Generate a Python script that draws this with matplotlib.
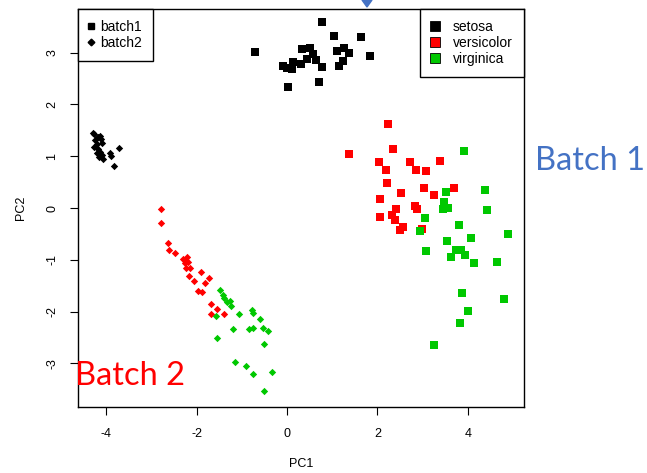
#!/usr/bin/env python3
"""PCA of iris across two batches: PC1 vs PC2, marker = batch, colour = species."""
import matplotlib
matplotlib.use("Agg")
import matplotlib.pyplot as plt
from matplotlib.lines import Line2D
from matplotlib.patches import Polygon

# ---- data (PC1, PC2) ----
b1_setosa_x = [0.77, 1.05, 1.63, -0.71, 0.34, 0.51, 0.58, 0.44, 0.64, 0.14, 0.32, -0.08,
               0.10, -0.01, 0.78, 0.02, 0.71, 1.10, 1.26, 1.37, 1.23, 1.16, 1.84]
b1_setosa_y = [3.59, 3.31, 3.30, 3.01, 3.06, 3.08, 2.97, 2.88, 2.86, 2.82, 2.77, 2.74,
               2.68, 2.70, 2.72, 2.34, 2.44, 3.02, 3.08, 2.99, 2.84, 2.74, 2.94]

b2_setosa_x = [-4.29, -4.17, -4.12, -4.25, -4.10, -4.21, -4.27, -4.17, -4.14, -4.21,
               -4.10, -4.15, -4.06, -3.92, -3.90, -3.72, -3.82, -4.26, -4.14]
b2_setosa_y = [1.45, 1.37, 1.34, 1.31, 1.26, 1.24, 1.18, 1.14, 1.08, 1.07,
               1.02, 0.98, 0.95, 1.07, 1.00, 1.16, 0.81, 1.43, 1.38]

b1_versi_x = [2.23, 1.37, 2.35, 2.04, 2.18, 2.72, 2.85, 3.08, 3.39, 2.21, 3.03, 3.24,
              3.69, 2.52, 2.06, 2.40, 2.83, 2.88, 2.06, 2.32, 2.39, 2.57, 2.50, 2.98]
b1_versi_y = [1.63, 1.05, 1.14, 0.88, 0.74, 0.88, 0.73, 0.72, 0.90, 0.48, 0.39, 0.26,
              0.38, 0.28, 0.17, -0.02, 0.04, -0.01, -0.17, -0.14, -0.23, -0.36, -0.42, -0.41]

b2_versi_x = [-2.79, -2.79, -2.63, -2.60, -2.48, -2.29, -2.22, -2.26, -2.18, -2.23, -2.15,
              -2.16, -1.91, -2.06, -1.72, -1.81, -1.96, -1.87, -1.67, -1.54, -1.69, -1.39, -2.26]
b2_versi_y = [-0.01, -0.28, -0.67, -0.81, -0.86, -0.99, -0.94, -1.07, -1.04, -1.16, -1.15,
              -1.31, -1.23, -1.41, -1.36, -1.44, -1.60, -1.62, -1.86, -1.95, -2.05, -2.05, -1.00]

b1_virg_x = [3.91, 3.51, 4.37, 3.47, 3.44, 3.55, 4.42, 3.05, 2.95, 3.81, 4.88, 4.06, 3.53,
             3.08, 3.73, 3.84, 3.63, 3.93, 4.13, 4.64, 3.86, 4.79, 4.01, 3.83, 3.25]
b1_virg_y = [1.10, 0.30, 0.35, 0.11, -0.01, 0.00, -0.04, -0.20, -0.45, -0.33, -0.51, -0.57,
             -0.63, -0.83, -0.81, -0.82, -0.94, -0.91, -1.06, -1.04, -1.64, -1.76, -1.99,
             -2.22, -2.64]

b2_virg_x = [-1.47, -1.42, -1.39, -1.33, -1.26, -1.24, -1.57, -1.06, -0.78, -0.75, -0.60,
             -1.19, -0.84, -0.75, -0.54, -0.43, -1.54, -0.51, -1.15, -0.91, -0.76, -0.33, -0.51]
b2_virg_y = [-1.58, -1.67, -1.74, -1.81, -1.79, -1.89, -2.08, -2.05, -1.96, -2.02, -2.15,
             -2.34, -2.34, -2.32, -2.31, -2.37, -2.50, -2.63, -2.98, -3.05, -3.21, -3.16, -3.53]

x_ticks = [-4, -2, 0, 2, 4]
y_ticks = [-3, -2, -1, 0, 1, 2, 3]
species = ["setosa", "versicolor", "virginica"]
batches = ["batch1", "batch2"]

COLORS = {"setosa": "black", "versicolor": "#FF0000", "virginica": "#00C800"}
FONT = ["Liberation Sans", "DejaVu Sans"]
SLIDE_FONT = ["Lato", "DejaVu Sans"]

plt.rcParams["font.family"] = FONT
plt.rcParams["axes.unicode_minus"] = False  # R prints a plain hyphen
fig = plt.figure(figsize=(6.47, 4.73), dpi=100)
ax = fig.add_axes([78 / 647, 1 - 407 / 473, 446 / 647, 398 / 473])

groups = [
    (b1_setosa_x, b1_setosa_y, "setosa", "s"), (b2_setosa_x, b2_setosa_y, "setosa", "D"),
    (b1_versi_x, b1_versi_y, "versicolor", "s"), (b2_versi_x, b2_versi_y, "versicolor", "D"),
    (b1_virg_x, b1_virg_y, "virginica", "s"), (b2_virg_x, b2_virg_y, "virginica", "D"),
]
for xs, ys, sp, mk in groups:
    size = 26 if mk == "s" else 14
    ax.scatter(xs, ys, s=size, marker=mk, c=COLORS[sp], linewidths=0)

ax.set_xlim(-4.62, 5.24)
ax.set_ylim(-3.84, 3.84)
ax.set_xticks(x_ticks)
ax.set_yticks(y_ticks)
ax.set_yticklabels([str(v) for v in y_ticks], rotation=90, va="center")
ax.tick_params(length=5.8, width=0.8, labelsize=9)
ax.tick_params(axis="x", pad=9)
ax.tick_params(axis="y", pad=8.5)
for sp in ax.spines.values():
    sp.set_linewidth(1.0)
ax.set_xlabel("PC1", fontsize=9, labelpad=13)
ax.set_ylabel("PC2", fontsize=9, labelpad=14)

# batch legend (marker shape)
h_batch = [Line2D([], [], ls="", marker="s", ms=4.5, color="black"),
           Line2D([], [], ls="", marker="D", ms=3.4, color="black")]
leg1 = ax.legend(h_batch, batches, loc="upper left", borderaxespad=0, fontsize=10,
                 fancybox=False, edgecolor="black", framealpha=1, handlelength=0.3,
                 handletextpad=0.5, labelspacing=0.15, borderpad=0.8)
leg1.get_frame().set_linewidth(1.0)
ax.add_artist(leg1)

# species legend (colour)
h_sp = [Line2D([], [], ls="", marker="s", ms=7, markerfacecolor=COLORS[s],
               markeredgecolor="black", markeredgewidth=0.6) for s in species]
leg2 = ax.legend(h_sp, species, loc="upper right", borderaxespad=0, fontsize=10,
                 fancybox=False, edgecolor="black", framealpha=1, handlelength=0.6,
                 handletextpad=1.0, labelspacing=0.15, borderpad=0.8)
leg2.get_frame().set_linewidth(1.0)

# slide annotations
fig.text(535 / 647, 1 - 170 / 473, "Batch 1", color="#4472C4", fontsize=23.5,
         family=SLIDE_FONT, va="baseline", ha="left")
fig.text(75 / 647, 1 - 385 / 473, "Batch 2", color="#FF0000", fontsize=23.5,
         family=SLIDE_FONT, va="baseline", ha="left")
fig.patches.append(Polygon([(362 / 647, 1.0), (372 / 647, 1.0), (367 / 647, 1 - 7 / 473)],
                           closed=True, transform=fig.transFigure, color="#4472C4"))

fig.savefig("out.png", dpi=100)
